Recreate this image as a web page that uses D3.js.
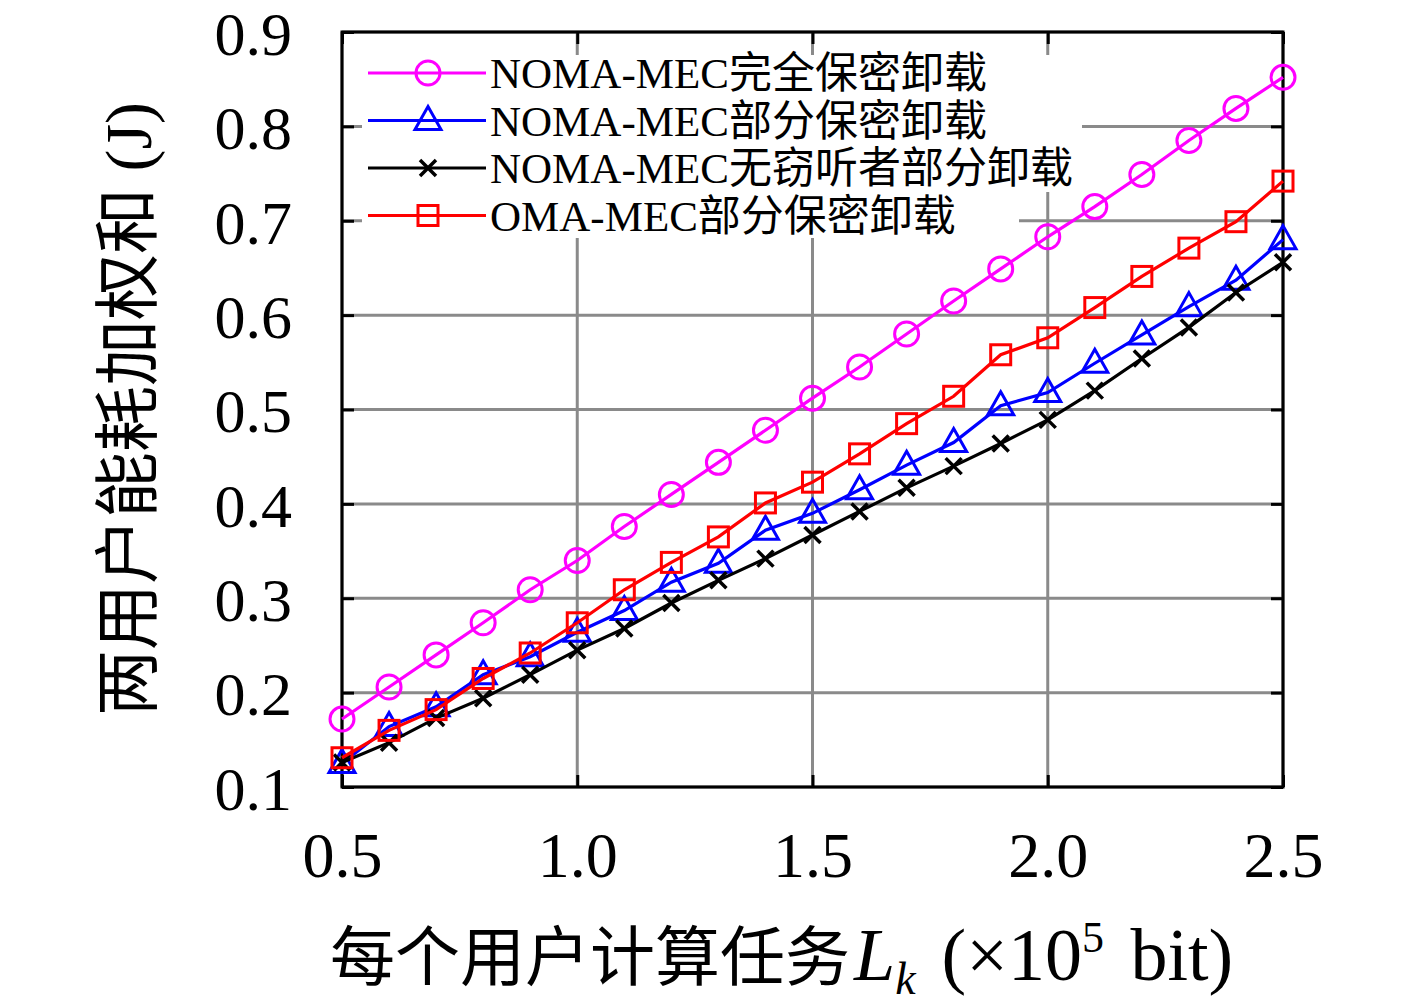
<!DOCTYPE html>
<html>
<head>
<meta charset="utf-8">
<script src="https://cdn.jsdelivr.net/npm/d3@7"></script>
<style>
  body { margin: 0; background: #fff; }
  svg text { font-family: "Liberation Serif", "Noto Sans CJK SC", serif; fill: #000; }
</style>
</head>
<body>
<svg id="canvas" width="1417" height="1004"></svg>
<script>
// task size per user (x10^5 bit)
const taskSizes = [0.5, 0.6, 0.7, 0.8, 0.9, 1.0, 1.1, 1.2, 1.3, 1.4, 1.5,
  1.6, 1.7, 1.8, 1.9, 2.0, 2.1, 2.2, 2.3, 2.4, 2.5];

const nomaFull = [0.172, 0.206, 0.240, 0.274, 0.309, 0.340, 0.376, 0.410, 0.444, 0.478, 0.512,
  0.545, 0.580, 0.615, 0.649, 0.683, 0.715, 0.749, 0.785, 0.819, 0.852];
const nomaPartial = [0.125, 0.164, 0.185, 0.219, 0.238, 0.264, 0.287, 0.317, 0.337, 0.372, 0.390,
  0.415, 0.441, 0.465, 0.504, 0.518, 0.549, 0.579, 0.609, 0.637, 0.680];
const nomaNoEve = [0.126, 0.147, 0.173, 0.194, 0.219, 0.245, 0.268, 0.295, 0.319, 0.342, 0.367,
  0.392, 0.417, 0.440, 0.464, 0.489, 0.520, 0.554, 0.587, 0.624, 0.656];
const omaPartial = [0.131, 0.160, 0.182, 0.215, 0.242, 0.274, 0.309, 0.338, 0.365, 0.401, 0.423,
  0.453, 0.485, 0.514, 0.558, 0.576, 0.608, 0.641, 0.671, 0.699, 0.742];

const seriesNames = ["NOMA-MEC完全保密卸载", "NOMA-MEC部分保密卸载",
  "NOMA-MEC无窃听者部分卸载", "OMA-MEC部分保密卸载"];
const xTicks = [0.5, 1.0, 1.5, 2.0, 2.5];
const yTicks = [0.1, 0.2, 0.3, 0.4, 0.5, 0.6, 0.7, 0.8, 0.9];

const series = [
  { name: seriesNames[0], values: nomaFull, color: "#ff00ff", marker: "circle" },
  { name: seriesNames[1], values: nomaPartial, color: "#0000ff", marker: "triangle" },
  { name: seriesNames[2], values: nomaNoEve, color: "#000000", marker: "cross" },
  { name: seriesNames[3], values: omaPartial, color: "#ff0000", marker: "square" },
];

const svg = d3.select("#canvas");
const margin = { left: 342, top: 32, right: 134, bottom: 217 };
const width = 1417 - margin.left - margin.right;
const height = 1004 - margin.top - margin.bottom;

const x = d3.scaleLinear().domain([0.5, 2.5]).range([0, width]);
const y = d3.scaleLinear().domain([0.1, 0.9]).range([height, 0]);

const g = svg.append("g").attr("transform", `translate(${margin.left},${margin.top})`);

// grid
g.append("g").selectAll("line").data(xTicks).enter().append("line")
  .attr("x1", d => x(d)).attr("x2", d => x(d)).attr("y1", 0).attr("y2", height)
  .attr("stroke", "#8a8a8a").attr("stroke-width", 3);
g.append("g").selectAll("line").data(yTicks).enter().append("line")
  .attr("x1", 0).attr("x2", width).attr("y1", d => y(d)).attr("y2", d => y(d))
  .attr("stroke", "#8a8a8a").attr("stroke-width", 3);

// legend backdrop hides the grid behind the entries
svg.append("rect").attr("x", 362).attr("y", 55).attr("width", 720).attr("height", 137).attr("fill", "#fff");
svg.append("rect").attr("x", 362).attr("y", 190).attr("width", 657).attr("height", 48).attr("fill", "#fff");

// axes with inner ticks
const styleAxis = sel => {
  sel.select(".domain").remove();
  sel.selectAll(".tick line").attr("stroke", "#000").attr("stroke-width", 3);
};
g.append("g").attr("transform", `translate(0,${height})`)
  .call(d3.axisBottom(x).tickValues(xTicks).tickSizeInner(-12).tickSizeOuter(0).tickPadding(45).tickFormat(d3.format(".1f")))
  .call(styleAxis)
  .selectAll("text").attr("font-size", 64).attr("font-family", "Liberation Serif");
g.append("g").attr("transform", `translate(0,0)`)
  .call(d3.axisTop(x).tickValues(xTicks).tickSizeInner(-12).tickSizeOuter(0).tickFormat(""))
  .call(styleAxis);
g.append("g")
  .call(d3.axisLeft(y).tickValues(yTicks).tickSizeInner(-12).tickSizeOuter(0).tickPadding(50).tickFormat(d3.format(".1f")))
  .call(styleAxis)
  .selectAll("text").attr("font-size", 62).attr("font-family", "Liberation Serif").attr("dy", "0.36em");
g.append("g").attr("transform", `translate(${width},0)`)
  .call(d3.axisRight(y).tickValues(yTicks).tickSizeInner(-12).tickSizeOuter(0).tickFormat(""))
  .call(styleAxis);

g.append("rect").attr("width", width).attr("height", height)
  .attr("fill", "none").attr("stroke", "#000").attr("stroke-width", 3);

// markers
const drawMarker = (sel, type, color) => {
  if (type === "circle") {
    sel.append("circle").attr("r", 12).attr("fill", "none").attr("stroke", color).attr("stroke-width", 3);
  } else if (type === "square") {
    sel.append("rect").attr("x", -10).attr("y", -10).attr("width", 20).attr("height", 20)
      .attr("fill", "none").attr("stroke", color).attr("stroke-width", 3);
  } else if (type === "triangle") {
    sel.append("path").attr("d", "M0,-14L13,9L-13,9Z")
      .attr("fill", "none").attr("stroke", color).attr("stroke-width", 3);
  } else {
    sel.append("path").attr("d", "M-8,-8L8,8M-8,8L8,-8")
      .attr("stroke", color).attr("stroke-width", 3.5);
  }
};

const line = d3.line().x(d => x(d[0])).y(d => y(d[1]));

series.forEach(s => {
  const pts = taskSizes.map((t, i) => [t, s.values[i]]);
  g.append("path").datum(pts).attr("d", line)
    .attr("fill", "none").attr("stroke", s.color).attr("stroke-width", 3.2);
  g.append("g").selectAll("g").data(pts).enter().append("g")
    .attr("transform", d => `translate(${x(d[0])},${y(d[1])})`)
    .each(function () { drawMarker(d3.select(this), s.marker, s.color); });
});

// legend
const legend = svg.append("g");
series.forEach((s, i) => {
  const ly = 73 + i * 47.5;
  legend.append("line").attr("x1", 368).attr("x2", 486).attr("y1", ly).attr("y2", ly)
    .attr("stroke", s.color).attr("stroke-width", 3);
  drawMarker(legend.append("g").attr("transform", `translate(428,${ly})`), s.marker, s.color);
  legend.append("text").attr("x", 490).attr("y", ly).attr("dy", "0.35em")
    .attr("font-size", 43).text(s.name);
});

// axis titles
const xl = svg.append("text").attr("x", 330).attr("y", 980).attr("font-size", 65);
xl.append("tspan").text("每个用户计算任务");
xl.append("tspan").attr("font-style", "italic").attr("font-size", 74).attr("dx", 4).text("L");
xl.append("tspan").attr("font-style", "italic").attr("font-size", 46).attr("dy", 14).text("k");
xl.append("tspan").attr("font-size", 74).attr("dy", -14).attr("dx", 26).text("(×10");
xl.append("tspan").attr("font-size", 44).attr("dy", -28).text("5");
xl.append("tspan").attr("font-size", 74).attr("dy", 28).attr("dx", 8).text(" bit)");

svg.append("text")
  .attr("transform", "translate(128,409) rotate(-90)")
  .attr("text-anchor", "middle").attr("dominant-baseline", "central")
  .attr("font-size", 66).text("两用户能耗加权和 (J)");
</script>
</body>
</html>
